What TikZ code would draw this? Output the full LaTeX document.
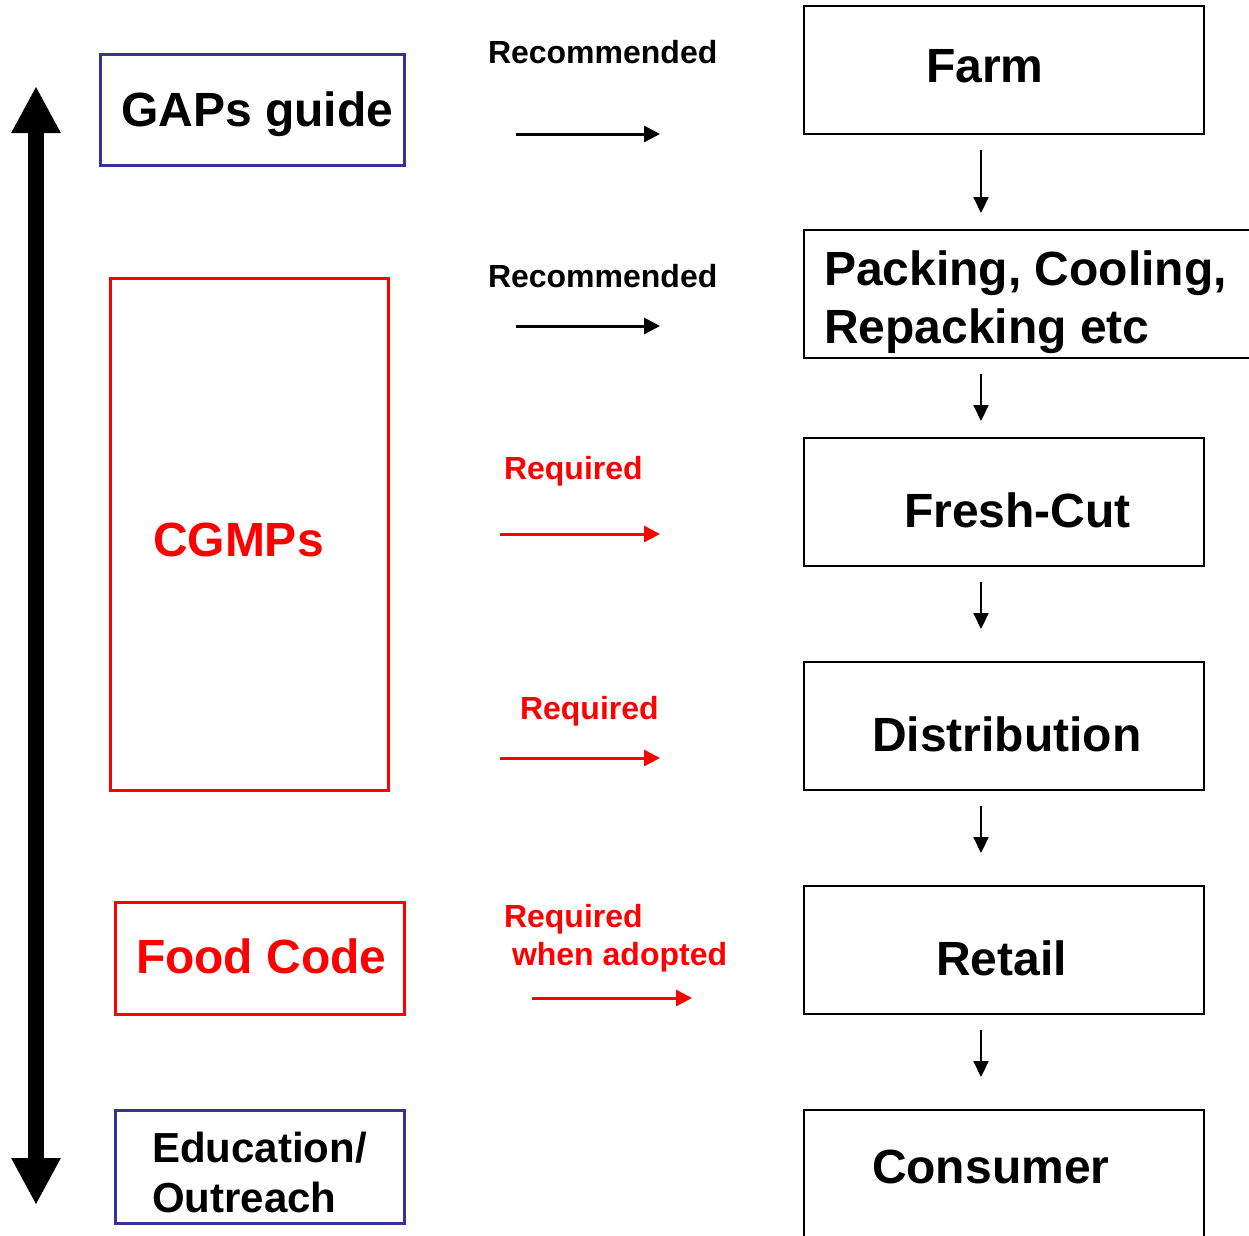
\documentclass[tikz,border=0pt]{standalone}
\usepackage{fontspec}
\setmainfont{Liberation Sans}
\usetikzlibrary{arrows.meta}
\definecolor{gapblue}{RGB}{51,51,153}
\definecolor{myred}{RGB}{255,0,0}
\begin{document}
\begin{tikzpicture}[x=1pt,y=-1pt,
  every node/.style={inner sep=0pt, outer sep=0pt},
  stagebox/.style={draw=black, line width=2pt, minimum width=400pt, minimum height=128pt, anchor=north west},
  bluebox/.style={draw=gapblue, line width=3pt, anchor=north west},
  redbox/.style={draw=myred, line width=3pt, anchor=north west},
  bigtxt/.style={font=\fontsize{48}{58}\selectfont\bfseries, anchor=base west},
  midtxt/.style={font=\fontsize{42}{50}\selectfont\bfseries, anchor=base west},
  smalltxt/.style={font=\fontsize{32}{38}\selectfont\bfseries, anchor=base west},
  harrow/.style={line width=3pt, -{Triangle[length=16pt,width=16pt]}},
  varrow/.style={line width=2pt, -{Triangle[length=16pt,width=15pt]}, shorten <=16pt},
  bigarrow/.style={line width=16pt, {Triangle[width=46pt,length=47pt]}-{Triangle[width=46pt,length=47pt]}}
]
\clip (0,0) rectangle (1249,1235);
\fill[white] (0,0) rectangle (1249,1235);

% big vertical double arrow
\coordinate (vt) at (36,86);
\coordinate (vb) at (36,1205);
\draw[bigarrow] (vt) -- (vb);

% left boxes
\node[bluebox, minimum width=304pt, minimum height=111pt] (gapbox) at (100,54) {};
\node[bigtxt] (gaptxt) at (121,126) {GAPs guide};

\node[redbox, minimum width=278pt, minimum height=512pt] (cgmpbox) at (110,278) {};
\node[bigtxt, text=myred] (cgmptxt) at (153,556) {CGMPs};

\node[redbox, minimum width=289pt, minimum height=112pt] (foodbox) at (115,902) {};
\node[bigtxt, text=myred] (foodtxt) at (136,973) {Food Code};

\node[bluebox, minimum width=289pt, minimum height=113pt] (edubox) at (115,1110) {};
\node[midtxt] (edutxt1) at (152,1162) {Education/};
\node[midtxt] (edutxt2) at (152,1212) {Outreach};

% right column
\node[stagebox] (farm) at (804,6) {};
\node[bigtxt] (farmtxt) at (926,82) {Farm};

\node[stagebox, minimum width=456pt] (pack) at (804,230) {};
\node[bigtxt] (packtxt1) at (824,285) {Packing, Cooling,};
\node[bigtxt] (packtxt2) at (824,343) {Repacking etc};

\node[stagebox] (fresh) at (804,438) {};
\node[bigtxt] (freshtxt) at (904,527) {Fresh-Cut};

\node[stagebox] (dist) at (804,662) {};
\node[bigtxt] (disttxt) at (872,751) {Distribution};

\node[stagebox] (retail) at (804,886) {};
\node[bigtxt] (retailtxt) at (936,975) {Retail};

\node[stagebox, minimum height=145pt] (cons) at (804,1110) {};
\node[bigtxt] (constxt) at (872,1183) {Consumer};

% vertical flow arrows
\coordinate (ax) at (981,0);
\draw[varrow, shorten >=17pt] (farm.south -| ax) -- (pack.north -| ax);
\draw[varrow, shorten >=17pt] (pack.south -| ax) -- (fresh.north -| ax);
\draw[varrow, shorten >=33pt] (fresh.south -| ax) -- (dist.north -| ax);
\draw[varrow, shorten >=33pt] (dist.south -| ax) -- (retail.north -| ax);
\draw[varrow, shorten >=33pt] (retail.south -| ax) -- (cons.north -| ax);

% horizontal arrows and labels
\node[smalltxt] (lab1) at (488,63) {Recommended};
\coordinate (h1s) at (516,134);
\coordinate (h1e) at (660,134);
\draw[harrow] (h1s) -- (h1e);

\node[smalltxt] (lab2) at (488,287) {Recommended};
\coordinate (h2s) at (516,326);
\coordinate (h2e) at (660,326);
\draw[harrow] (h2s) -- (h2e);

\node[smalltxt, text=myred] (lab3) at (504,479) {Required};
\coordinate (h3s) at (500,534);
\coordinate (h3e) at (660,534);
\draw[harrow, myred] (h3s) -- (h3e);

\node[smalltxt, text=myred] (lab4) at (520,719) {Required};
\coordinate (h4s) at (500,758);
\coordinate (h4e) at (660,758);
\draw[harrow, myred] (h4s) -- (h4e);

\node[smalltxt, text=myred] (lab5a) at (504,927) {Required};
\node[smalltxt, text=myred] (lab5b) at (512,965) {when adopted};
\coordinate (h5s) at (532,998);
\coordinate (h5e) at (692,998);
\draw[harrow, myred] (h5s) -- (h5e);
\end{tikzpicture}
\end{document}
